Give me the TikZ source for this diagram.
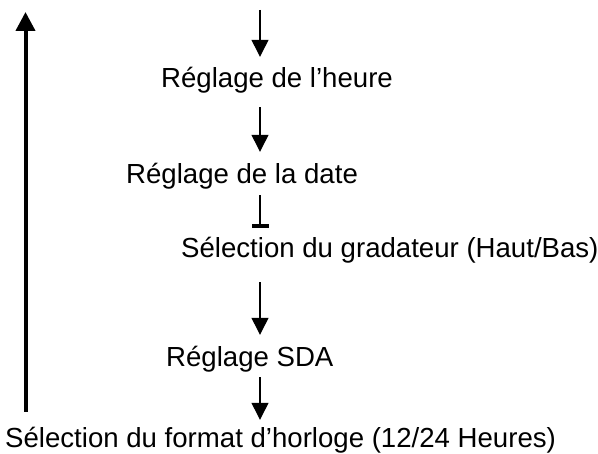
\documentclass[tikz,border=0pt]{standalone}
\usepackage{fontspec}
\setmainfont{Liberation Sans}
\usetikzlibrary{arrows.meta}
\begin{document}
\begin{tikzpicture}[x=1pt,y=-1pt,
  lbl/.style={inner sep=0pt,anchor=base west,text height=20pt,text depth=6pt,
    font=\fontsize{27.6}{32}\selectfont},
  arr/.style={line width=1.3pt,-{Triangle[length=17pt,width=17pt]}},
  barr/.style={line width=1.3pt,-{Rectangle[length=3.5pt,width=17pt]}},
  bigarr/.style={line width=4pt,-{Triangle[length=19pt,width=19pt]}}]
\useasboundingbox (0,0) rectangle (598,454);
\node[lbl] (heure) at (161,88) {Réglage de l’heure};
\node[lbl] (date) at (126,184) {Réglage de la date};
\node[lbl] (grad) at (181,257.5) {Sélection du gradateur (Haut/Bas)};
\node[lbl] (sda) at (166,367) {Réglage SDA};
\node[lbl] (fmt) at (5,448) {Sélection du format d’horloge (12/24 Heures)};
\coordinate (ax) at (260,0);
\coordinate (top) at (260,10);
\coordinate (bigbot) at (25.5,412);
\coordinate (bigtop) at (25.5,12);
\draw[bigarr] (bigbot) -- (bigtop);
\draw[arr,shorten >=11pt] (top) -- (ax |- heure.north);
\draw[arr,shorten <=13pt,shorten >=12pt] (ax |- heure.south) -- (ax |- date.north);
\draw[barr,shorten <=5pt,shorten >=9.5pt] (ax |- date.south) -- (ax |- grad.north);
\draw[arr,shorten <=18.5pt,shorten >=12pt] (ax |- grad.south) -- (ax |- sda.north);
\draw[arr,shorten <=4pt,shorten >=8pt] (ax |- sda.south) -- (ax |- fmt.north);
\end{tikzpicture}
\end{document}
